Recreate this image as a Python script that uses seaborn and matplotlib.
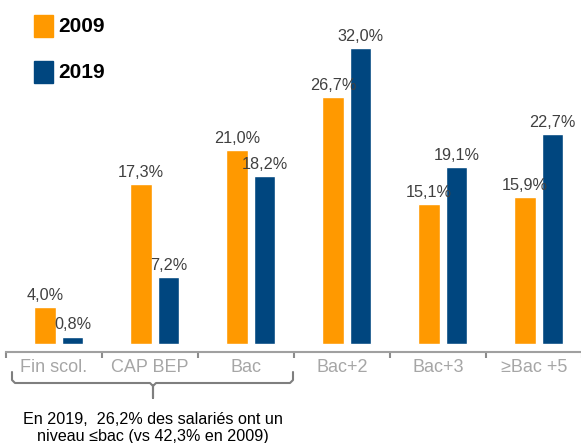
import matplotlib
matplotlib.use("Agg")
import matplotlib.pyplot as plt
import seaborn as sns
import pandas as pd
from matplotlib.lines import Line2D
from matplotlib.patches import Rectangle

# niveaux de diplome et parts des salaries (%)
niveaux = ["Fin scol.", "CAP BEP", "Bac", "Bac+2", "Bac+3", "≥Bac +5"]
annees = ["2009", "2019"]
part_2009 = [4.0, 17.3, 21.0, 26.7, 15.1, 15.9]
part_2019 = [0.8, 7.2, 18.2, 32.0, 19.1, 22.7]
couleurs = {"2009": "#FF9900", "2019": "#00467F"}
note = "En 2019,  26,2% des salariés ont un\nniveau ≤bac (vs 42,3% en 2009)"

df = pd.DataFrame({
    "niveau": niveaux * 2,
    "annee": [annees[0]] * len(niveaux) + [annees[1]] * len(niveaux),
    "part": part_2009 + part_2019,
})

sns.set_theme(style="white")
plt.rcParams["font.family"] = ["Liberation Sans", "DejaVu Sans"]

W, H = 581, 443
fig = plt.figure(figsize=(W / 100, H / 100), dpi=100)
ax = fig.add_axes([6 / W, 1 - 352 / H, 576 / W, 352 / H])

sns.barplot(data=df, x="niveau", y="part", hue="annee", palette=couleurs,
            width=0.57, gap=0.2, saturation=1, legend=False, ax=ax)

# les barres sont un peu decalees a droite dans l'original
for p in ax.patches:
    p.set_x(p.get_x() + 0.05)

for cont in ax.containers:
    labels = [f"{b.get_height():.1f}%".replace(".", ",") for b in cont]
    ax.bar_label(cont, labels=labels, padding=3, fontsize=11.7, color="#404040")

ax.set_xlim(-0.5, 5.5)
ax.set_ylim(-0.86, 37.2)
ax.set_yticks([])
ax.set_xlabel("")
ax.set_ylabel("")
for s in ["left", "top", "right"]:
    ax.spines[s].set_visible(False)
ax.spines["bottom"].set_color("#A0A0A0")
ax.spines["bottom"].set_linewidth(1.5)

ax.set_xticks([i - 0.5 for i in range(len(niveaux) + 1)], minor=True)
ax.tick_params(axis="x", which="major", length=0, labelsize=13,
               labelcolor="#A6A6A6", pad=5)
ax.tick_params(axis="x", which="minor", bottom=True, length=4, width=1.5,
               color="#8C8C8C", direction="out")

# legende manuelle
for i, an in enumerate(annees):
    y0 = 15 + 46 * i
    fig.patches.append(Rectangle((34 / W, 1 - (y0 + 22) / H), 19 / W, 22 / H,
                                 transform=fig.transFigure, color=couleurs[an]))
    fig.text(58 / W, 1 - (y0 + 11) / H, an, fontsize=15, fontweight="bold",
             ha="left", va="center", color="black")

# accolade sous les trois premiers niveaux
pts = [(12, 372), (12, 380), (15, 383), (150, 383), (153, 386), (153, 398),
       (153, 386), (156, 383), (290, 383), (293, 380), (293, 372)]
fig.add_artist(Line2D([p[0] / W for p in pts], [1 - p[1] / H for p in pts],
                      transform=fig.transFigure, color="#7F7F7F", lw=1.5,
                      solid_joinstyle="round"))

fig.text(153 / W, 1 - 428 / H, note, fontsize=11.6, ha="center", va="center",
         linespacing=1.25, color="black")

fig.savefig("out.png", dpi=100)
